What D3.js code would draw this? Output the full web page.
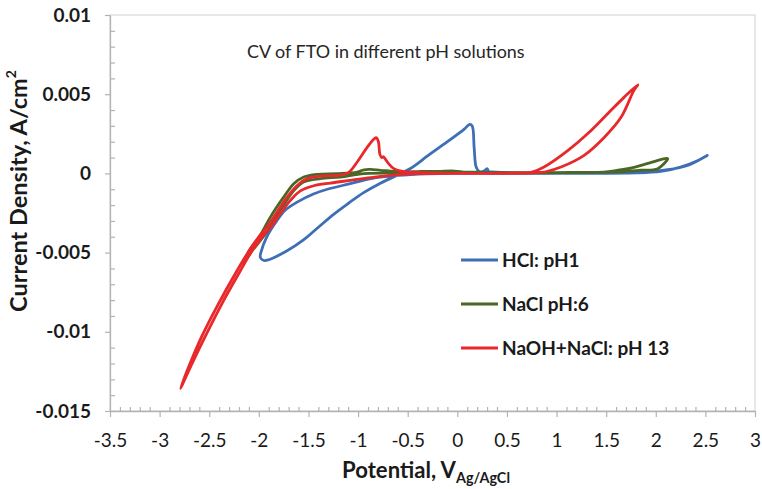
<!DOCTYPE html>
<html>
<head>
<meta charset="utf-8">
<script src="https://cdn.jsdelivr.net/npm/d3@7"></script>
<style>
  body { margin: 0; background: #fff; }
  svg { display: block; }
</style>
</head>
<body>
<svg id="chart" width="762" height="489"></svg>
<script>
// ---- data -------------------------------------------------------------
const xTickValues = [-3.5, -3, -2.5, -2, -1.5, -1, -0.5, 0, 0.5, 1, 1.5, 2, 2.5, 3];
const yTickValues = [-0.015, -0.01, -0.005, 0, 0.005, 0.01];

const seriesNames = ["HCl: pH1", "NaCl pH:6", "NaOH+NaCl: pH 13"];

// [potential (V vs Ag/AgCl), current density (A/cm2)]
const hclPoints = [
  [0.34, 0.0001], [0.6, 0.00003], [1.0, 0.00002], [1.5, 0.00003], [1.88, 0.00008],
  [2.12, 0.00023], [2.32, 0.0005], [2.46, 0.00093], [2.52, 0.00114], [2.42, 0.0008],
  [2.25, 0.0004], [2.05, 0.00013], [1.8, 0.00003], [1.2, 0.0], [0.6, 0.0], [0.0, 0.0],
  [-0.3, -0.00003], [-0.6, -0.00013], [-0.87, -0.00033], [-1.08, -0.00065],
  [-1.31, -0.001], [-1.45, -0.0013], [-1.61, -0.0018], [-1.73, -0.0023],
  [-1.82, -0.003], [-1.92, -0.004], [-1.975, -0.0049], [-1.985, -0.0053],
  [-1.95, -0.0055], [-1.9, -0.00545], [-1.72, -0.0049], [-1.55, -0.0042],
  [-1.4, -0.0034], [-1.25, -0.0026], [-1.1, -0.0019], [-0.94, -0.0012],
  [-0.77, -0.0006], [-0.6, -0.0001], [-0.45, 0.0004], [-0.3, 0.0011],
  [-0.1, 0.002], [0.07, 0.0028], [0.125, 0.0031], [0.15, 0.003], [0.17, 0.0016],
  [0.19, 0.0004], [0.22, 0.00012], [0.27, 0.00015], [0.3, 0.0003], [0.32, 0.0001],
  [0.4, 0.00004]
];

const naclPoints = [
  [0.0, 0.0001], [0.5, 0.00005], [1.0, 0.00005], [1.5, 0.0001], [1.62, 0.0002],
  [1.79, 0.0004], [1.955, 0.0007], [2.09, 0.00093], [2.12, 0.00093], [2.02, 0.0003],
  [1.85, 0.0002], [1.6, 0.0001], [1.0, 0.00005], [0.5, 0.00003], [0.0, 0.0001],
  [-0.2, 0.0001], [-0.5, 0.00005], [-0.94, -0.00002], [-1.18, -0.00023],
  [-1.38, -0.00033], [-1.55, -0.00055], [-1.65, -0.0011], [-1.75, -0.002],
  [-1.85, -0.003], [-1.955, -0.004], [-2.07, -0.0049], [-2.115, -0.0053],
  [-2.1, -0.0049], [-1.995, -0.004],
  [-1.884, -0.00276], [-1.75, -0.0015], [-1.648, -0.00065], [-1.547, -0.00023],
  [-1.412, -0.00006], [-1.21, -0.00002], [-1.008, 0.00008], [-0.941, 0.00023],
  [-0.874, 0.00025], [-0.773, 0.00019], [-0.672, 0.00015], [-0.537, 0.00008],
  [-0.369, 0.00013], [-0.2, 0.00013], [-0.03, 0.00015], [0.05, 0.0001]
];

const naohPoints = [
  [0.0, 0.0], [0.5, 0.0], [0.75, 0.00003], [0.9, 0.00012], [1.045, 0.0004],
  [1.278, 0.00114], [1.48, 0.00227], [1.65, 0.00354], [1.78, 0.00524], [1.82, 0.0056],
  [1.68, 0.0048], [1.52, 0.0038], [1.318, 0.00253], [1.116, 0.00145], [0.874, 0.0004],
  [0.75, 0.00008], [0.5, 0.00001], [0.0, 0.0], [-0.4, -0.00002], [-0.6, -0.00008],
  [-0.874, -0.00027], [-1.076, -0.00044], [-1.278, -0.00061], [-1.446, -0.00078],
  [-1.581, -0.0011], [-1.682, -0.0017], [-1.78, -0.0025], [-1.88, -0.0034],
  [-1.965, -0.004], [-2.07, -0.0049], [-2.2, -0.0063], [-2.37, -0.0082],
  [-2.545, -0.01035], [-2.665, -0.0119], [-2.79, -0.01357], [-2.7, -0.0121],
  [-2.58, -0.01035], [-2.405, -0.0082], [-2.235, -0.0063], [-2.1, -0.0049],
  [-2.0, -0.004], [-1.92, -0.0034], [-1.85, -0.00276], [-1.715, -0.0015],
  [-1.614, -0.00076], [-1.513, -0.00033], [-1.379, -0.00017], [-1.2, -0.00012],
  [-1.1, 0.00003], [-1.0, 0.0008], [-0.907, 0.00166], [-0.835, 0.0022],
  [-0.815, 0.00225], [-0.795, 0.002], [-0.78, 0.0012], [-0.76, 0.001],
  [-0.745, 0.00105], [-0.725, 0.0009], [-0.69, 0.0006], [-0.64, 0.0003],
  [-0.55, 0.00012], [-0.3, 0.00003], [0.3, 0.0]
];

const seriesPoints = [hclPoints, naclPoints, naohPoints];
const seriesColors = ["#3e6fb5", "#4b6726", "#e8282b"];

// ---- layout -----------------------------------------------------------
const svg = d3.select("#chart");
const plot = { left: 110, right: 755, top: 15, bottom: 411 };
const axisColor = "#b3b3b3";
const font = "Lato, 'Open Sans', sans-serif";

const x = d3.scaleLinear().domain([-3.5, 3]).range([plot.left, plot.right]);
const y = d3.scaleLinear().domain([-0.015, 0.01]).range([plot.bottom, plot.top]);

// plot-area frame
svg.append("rect")
  .attr("x", plot.left).attr("y", plot.top)
  .attr("width", plot.right - plot.left).attr("height", plot.bottom - plot.top)
  .attr("fill", "none").attr("stroke", "#d0d0d0").attr("stroke-width", 1);

// minor tick positions (0.1 V and 0.001 A/cm2)
const xMinor = d3.range(-35, 31).map(i => i / 10).filter(v => Math.abs(v * 2 - Math.round(v * 2)) > 1e-6);
const yMinor = d3.range(-15, 11).map(i => i / 1000).filter(v => Math.abs(v * 200 - Math.round(v * 200)) > 1e-6);

function styleAxis(g) {
  g.selectAll("path.domain").attr("stroke", axisColor).attr("stroke-width", 1.3);
  g.selectAll(".tick line").attr("stroke", axisColor).attr("stroke-width", 1.2);
}

// x axis
const gxMinor = svg.append("g").attr("transform", `translate(0,${plot.bottom})`)
  .call(d3.axisBottom(x).tickValues(xMinor).tickSize(-4).tickSizeOuter(0).tickFormat(""));
gxMinor.select("path.domain").remove();
styleAxis(gxMinor);

const gx = svg.append("g").attr("transform", `translate(0,${plot.bottom})`)
  .call(d3.axisBottom(x).tickValues(xTickValues).tickSize(6).tickSizeOuter(0)
    .tickPadding(17).tickFormat(d => String(d)));
styleAxis(gx);
gx.selectAll(".tick text")
  .attr("font-family", font).attr("font-size", 19).attr("fill", "#1a1a1a");

// y axis
const gyMinor = svg.append("g").attr("transform", `translate(${plot.left},0)`)
  .call(d3.axisLeft(y).tickValues(yMinor).tickSize(-5).tickSizeOuter(0).tickFormat(""));
gyMinor.select("path.domain").remove();
styleAxis(gyMinor);

const gy = svg.append("g").attr("transform", `translate(${plot.left},0)`)
  .call(d3.axisLeft(y).tickValues(yTickValues).tickSize(5).tickSizeOuter(0)
    .tickPadding(14).tickFormat(d => String(+d.toFixed(3))));
styleAxis(gy);
gy.selectAll(".tick text")
  .attr("font-family", font).attr("font-size", 19).attr("font-weight", 700)
  .attr("fill", "#1a1a1a");

// ---- curves -----------------------------------------------------------
const line = d3.line()
  .x(d => x(d[0])).y(d => y(d[1]))
  .curve(d3.curveCatmullRom.alpha(0.5));

svg.append("g").selectAll("path")
  .data(seriesPoints)
  .join("path")
  .attr("d", line)
  .attr("fill", "none")
  .attr("stroke", (d, i) => seriesColors[i])
  .attr("stroke-width", 2.8)
  .attr("stroke-linejoin", "round")
  .attr("stroke-linecap", "round");

// ---- text helpers -----------------------------------------------------
function fitWidth(sel, target) {
  const w = sel.node().getBBox().width;
  const fs = parseFloat(sel.attr("font-size"));
  sel.attr("font-size", fs * target / w);
}

// chart title
const title = svg.append("text")
  .attr("x", 247).attr("y", 58)
  .attr("font-family", font).attr("font-size", 18).attr("fill", "#262626")
  .text("CV of FTO in different pH solutions");
fitWidth(title, 278);

// y axis title
const yTitle = svg.append("text")
  .attr("transform", "translate(27,191) rotate(-90)")
  .attr("text-anchor", "middle")
  .attr("font-family", font).attr("font-size", 23).attr("font-weight", 700)
  .attr("fill", "#1a1a1a");
yTitle.append("tspan").text("Current Density, A/cm");
yTitle.append("tspan").attr("font-size", "0.6em").attr("dy", "-0.75em").text("2");
fitWidth(yTitle, 242);

// x axis title
const xTitle = svg.append("text")
  .attr("x", 426).attr("y", 478)
  .attr("text-anchor", "middle")
  .attr("font-family", font).attr("font-size", 23).attr("font-weight", 700)
  .attr("fill", "#1a1a1a");
xTitle.append("tspan").text("Potential, V");
xTitle.append("tspan").attr("font-size", "0.65em").attr("dy", "0.35em").text("Ag/AgCl");
fitWidth(xTitle, 168);

// ---- legend -----------------------------------------------------------
const legendRows = [260, 304, 348];
const legend = svg.append("g").selectAll("g")
  .data(seriesNames)
  .join("g")
  .attr("transform", (d, i) => `translate(461,${legendRows[i]})`);
legend.append("line")
  .attr("x1", 0).attr("x2", 37).attr("y1", 0).attr("y2", 0)
  .attr("stroke", (d, i) => seriesColors[i]).attr("stroke-width", 3);
legend.append("text")
  .attr("x", 41).attr("y", 7)
  .attr("font-family", font).attr("font-size", 19).attr("font-weight", 700)
  .attr("fill", "#1a1a1a")
  .text(d => d);
</script>
</body>
</html>
